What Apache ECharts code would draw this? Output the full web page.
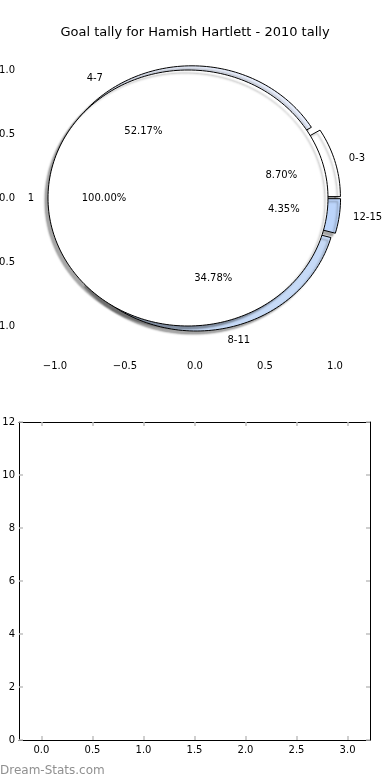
<!DOCTYPE html>
<html>
<head>
<meta charset="utf-8">
<script src="https://cdn.jsdelivr.net/npm/echarts@6/dist/echarts.min.js"></script>
<style>
  html, body { margin: 0; padding: 0; background: #fff; }
  .main { width: 390px; height: 780px; }
</style>
</head>
<body>
<div class="main"></div>
<script>
// data
var outerCats = ['0-3', '4-7', '8-11', '12-15'];
var outerGoals = [2, 12, 8, 1];
var outerColors = ['#ffffff', '#e6ecfa', '#c6daf7', '#bcd5fb'];
var innerCats = ['1'];
var innerGoals = [23];
var innerColors = ['#ffffff'];
var pieTicks = [-1, -0.5, 0, 0.5, 1];
var barXTicks = [0, 0.5, 1, 1.5, 2, 2.5, 3];

var FONT = 'DejaVu Sans';
var TICK = { inside: true, length: 4, lineStyle: { color: '#c0c0c0', width: 1.5 } };

function slices(cats, values, colors, explode) {
    var total = values.reduce(function (a, b) { return a + b; }, 0);
    var a = 0;
    return values.map(function (v, i) {
        var a1 = a, a2 = a + v / total * 360;
        a = a2;
        return { name: cats[i], color: colors[i], a1: a1, a2: a2, frac: v / total, e: explode };
    });
}

var pieItems = slices(outerCats, outerGoals, outerColors, 0.04)
    .concat(slices(innerCats, innerGoals, innerColors, 0.05));

function fmtTick(v) {
    return (v < 0 ? '\u2212' : '') + Math.abs(v).toFixed(1);
}

function renderWedge(params, api) {
    var s = pieItems[params.dataIndex];
    var rad = Math.PI / 180;
    var mid = (s.a1 + s.a2) / 2 * rad;
    var cx = s.e * Math.cos(mid), cy = s.e * Math.sin(mid);
    var full = s.a2 - s.a1 >= 359.999;
    var pts = full ? [] : [api.coord([cx, cy])];
    var steps = Math.max(8, Math.round((s.a2 - s.a1) / 1.5));
    for (var k = 0; k <= steps; k++) {
        var t = (s.a1 + (s.a2 - s.a1) * k / steps) * rad;
        pts.push(api.coord([cx + Math.cos(t), cy + Math.sin(t)]));
    }
    var lx = cx + 1.1 * Math.cos(mid), ly = cy + 1.1 * Math.sin(mid);
    var px = cx + 0.6 * Math.cos(mid), py = cy + 0.6 * Math.sin(mid);
    var lp = api.coord([lx, ly]), pp = api.coord([px, py]);
    return {
        type: 'group',
        children: [{
            type: 'polygon',
            z2: params.dataIndex,
            shape: { points: pts },
            style: {
                fill: s.color, stroke: '#000', lineWidth: 1,
                shadowBlur: 2, shadowColor: 'rgba(0,0,0,0.35)',
                shadowOffsetX: -3, shadowOffsetY: 3
            }
        }, {
            type: 'text',
            z2: 100,
            style: {
                text: s.name, x: lp[0], y: lp[1], fill: '#000',
                font: '10px "' + FONT + '"',
                align: lx > 0 ? 'left' : 'right', verticalAlign: 'middle'
            }
        }, {
            type: 'text',
            z2: 100,
            style: {
                text: (s.frac * 100).toFixed(2) + '%', x: pp[0], y: pp[1], fill: '#000',
                font: '10px "' + FONT + '"',
                align: 'center', verticalAlign: 'middle'
            }
        }]
    };
}

var myChart = echarts.init(document.querySelector('.main'));

var option = {
    animation: false,
    textStyle: { fontFamily: FONT },
    title: {
        text: 'Goal tally for Hamish Hartlett - 2010 tally',
        left: 'center',
        top: 21,
        textStyle: { fontFamily: FONT, fontSize: 13, fontWeight: 'normal', color: '#000' }
    },
    graphic: [{
        type: 'text',
        left: 0,
        top: 765,
        style: { text: 'Dream-Stats.com', fill: '#909090', font: '12px "' + FONT + '"' }
    }],
    grid: [
        { left: 20, right: 20, top: 38, height: 320, outerBoundsMode: 'none', containLabel: false },
        { left: 19, right: 20, top: 422, bottom: 40, outerBoundsMode: 'none', containLabel: false }
    ],
    xAxis: [{
        gridIndex: 0, type: 'value', position: 'bottom', min: -1.25, max: 1.25,
        axisLine: { show: false }, splitLine: { show: false },
        axisTick: Object.assign({ customValues: pieTicks }, TICK),
        axisLabel: { customValues: pieTicks, formatter: fmtTick, color: '#000', fontSize: 10, fontFamily: FONT, margin: 3 }
    }, {
        gridIndex: 0, type: 'value', position: 'top', min: -1.25, max: 1.25,
        axisLine: { show: false }, splitLine: { show: false },
        axisTick: Object.assign({ customValues: pieTicks }, TICK),
        axisLabel: { show: false }
    }, {
        gridIndex: 1, type: 'value', position: 'bottom', min: -0.22, max: 3.22,
        axisLine: { show: true, onZero: false, lineStyle: { color: '#000', width: 1 } },
        splitLine: { show: false },
        axisTick: Object.assign({ customValues: barXTicks }, TICK),
        axisLabel: { customValues: barXTicks, formatter: fmtTick, color: '#000', fontSize: 10, fontFamily: FONT, margin: 5 }
    }, {
        gridIndex: 1, type: 'value', position: 'top', min: -0.22, max: 3.22,
        axisLine: { show: true, onZero: false, lineStyle: { color: '#000', width: 1 } },
        splitLine: { show: false },
        axisTick: Object.assign({ customValues: barXTicks }, TICK),
        axisLabel: { show: false }
    }],
    yAxis: [{
        gridIndex: 0, type: 'value', position: 'left', min: -1.25, max: 1.25,
        axisLine: { show: false }, splitLine: { show: false },
        axisTick: Object.assign({ customValues: pieTicks }, TICK),
        axisLabel: { customValues: pieTicks, formatter: fmtTick, color: '#000', fontSize: 10, fontFamily: FONT, margin: 5 }
    }, {
        gridIndex: 0, type: 'value', position: 'right', min: -1.25, max: 1.25,
        axisLine: { show: false }, splitLine: { show: false },
        axisTick: Object.assign({ customValues: pieTicks }, TICK),
        axisLabel: { show: false }
    }, {
        gridIndex: 1, type: 'value', position: 'left', min: 0, max: 12, interval: 2,
        axisLine: { show: true, onZero: false, lineStyle: { color: '#000', width: 1 } },
        splitLine: { show: false },
        axisTick: TICK,
        axisLabel: { color: '#000', fontSize: 10, fontFamily: FONT, margin: 4 }
    }, {
        gridIndex: 1, type: 'value', position: 'right', min: 0, max: 12, interval: 2,
        axisLine: { show: true, onZero: false, lineStyle: { color: '#000', width: 1 } },
        splitLine: { show: false },
        axisTick: TICK,
        axisLabel: { show: false }
    }],
    series: [{
        name: 'pie',
        type: 'custom',
        xAxisIndex: 0,
        yAxisIndex: 0,
        clip: false,
        renderItem: renderWedge,
        data: pieItems.map(function () { return [0, 0]; })
    }, {
        name: 'bar',
        type: 'bar',
        xAxisIndex: 2,
        yAxisIndex: 2,
        data: []
    }]
};

myChart.setOption(option);
</script>
</body>
</html>
